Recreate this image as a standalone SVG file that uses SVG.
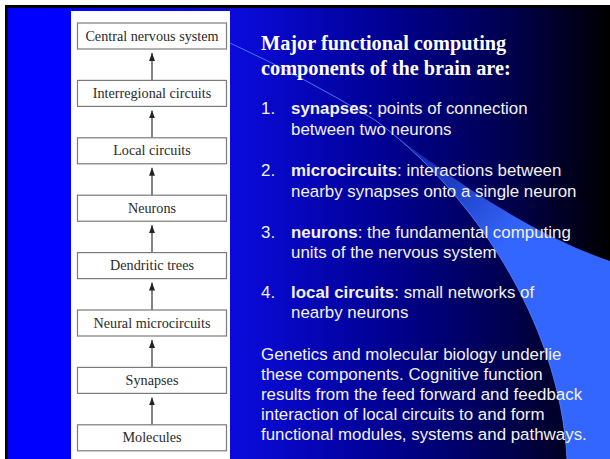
<svg xmlns="http://www.w3.org/2000/svg" width="610" height="459" viewBox="0 0 610 459">
  <defs>
    <linearGradient id="bg" x1="0" y1="0" x2="610" y2="0" gradientUnits="userSpaceOnUse">
      <stop offset="0.12" stop-color="#0000ff"/>
      <stop offset="0.4" stop-color="#0a0ad8"/>
      <stop offset="0.65" stop-color="#00008c"/>
      <stop offset="0.85" stop-color="#000048"/>
      <stop offset="1" stop-color="#000000"/>
    </linearGradient>
    <linearGradient id="swoosh" x1="400" y1="130" x2="510" y2="240" gradientUnits="userSpaceOnUse">
      <stop offset="0" stop-color="#3366ff" stop-opacity="0.25"/>
      <stop offset="1" stop-color="#3366ff" stop-opacity="1"/>
    </linearGradient>
    <marker id="arrow" viewBox="0 0 8 6" refX="8" refY="3" markerWidth="8" markerHeight="6" orient="auto" markerUnits="userSpaceOnUse">
      <path d="M0,0 L8,3 L0,6 Z" fill="#222"/>
    </marker>
    <style>
      .box { fill: #ffffff; stroke: #7a7a7a; stroke-width: 1.2; }
      .lbl { font-family: "Liberation Serif", "Times New Roman", serif; font-size: 14.2px; fill: #2a2a2a; text-anchor: middle; }
      .link { stroke: #333; stroke-width: 1.2; fill: none; }
      .title { font-family: "Liberation Serif", "Times New Roman", serif; font-size: 20.3px; font-weight: bold; fill: #ffffff; }
      .body { font-family: "Liberation Sans", Arial, sans-serif; font-size: 16.9px; fill: #f2f2f2; }
      .b { font-weight: bold; }
    </style>
  </defs>

  <!-- slide frame and background -->
  <rect x="0" y="0" width="610" height="459" fill="#ffffff"/>
  <rect x="5" y="5" width="610" height="460" fill="#000000"/>
  <rect x="7.5" y="8" width="610" height="460" fill="url(#bg)"/>

  <!-- decorative swoosh -->
  <g id="swoosh-band">
    <path d="M375,120 C470,190 560,320 567,459 L610,459 L610,261 Q512,228 375,120 Z" fill="url(#swoosh)"/>
    <path d="M230,43 Q300,75 375,120 C470,190 560,320 567,459" fill="none" stroke="#4d80ff" stroke-width="0.9"/>
  </g>

  <!-- hierarchy panel -->
  <rect x="71" y="11" width="159" height="450" fill="#ffffff"/>

  <g id="connectors">
    <line class="link" x1="152" y1="80.4" x2="152" y2="53" marker-end="url(#arrow)"/>
    <line class="link" x1="152" y1="137.8" x2="152" y2="110.4" marker-end="url(#arrow)"/>
    <line class="link" x1="152" y1="195.2" x2="152" y2="167.8" marker-end="url(#arrow)"/>
    <line class="link" x1="152" y1="252.6" x2="152" y2="225.2" marker-end="url(#arrow)"/>
    <line class="link" x1="152" y1="310" x2="152" y2="282.6" marker-end="url(#arrow)"/>
    <line class="link" x1="152" y1="367.4" x2="152" y2="340" marker-end="url(#arrow)"/>
    <line class="link" x1="152" y1="424.8" x2="152" y2="397.4" marker-end="url(#arrow)"/>
  </g>

  <g id="cns"><rect class="box" x="77.5" y="23" width="149" height="26"/><text class="lbl" x="152" y="40.5">Central nervous system</text></g>
  <g id="interregional"><rect class="box" x="77.5" y="80.4" width="149" height="26"/><text class="lbl" x="152" y="97.9">Interregional circuits</text></g>
  <g id="local"><rect class="box" x="77.5" y="137.8" width="149" height="26"/><text class="lbl" x="152" y="155.3">Local circuits</text></g>
  <g id="neurons"><rect class="box" x="77.5" y="195.2" width="149" height="26"/><text class="lbl" x="152" y="212.7">Neurons</text></g>
  <g id="dendritic"><rect class="box" x="77.5" y="252.6" width="149" height="26"/><text class="lbl" x="152" y="270.1">Dendritic trees</text></g>
  <g id="microcircuits"><rect class="box" x="77.5" y="310" width="149" height="26"/><text class="lbl" x="152" y="327.5">Neural microcircuits</text></g>
  <g id="synapses"><rect class="box" x="77.5" y="367.4" width="149" height="26"/><text class="lbl" x="152" y="384.9">Synapses</text></g>
  <g id="molecules"><rect class="box" x="77.5" y="424.8" width="149" height="26"/><text class="lbl" x="152" y="442.3">Molecules</text></g>

  <!-- text column -->
  <text class="title" x="261" y="50">Major functional computing</text>
  <text class="title" x="261" y="75">components of the brain are:</text>

  <text class="body" x="261" y="114">1.</text>
  <text class="body" x="291" y="114"><tspan class="b">synapses</tspan>: points of connection</text>
  <text class="body" x="291" y="134.5">between two neurons</text>

  <text class="body" x="261" y="176">2.</text>
  <text class="body" x="291" y="176"><tspan class="b">microcircuits</tspan>: interactions between</text>
  <text class="body" x="291" y="196.5">nearby synapses onto a single neuron</text>

  <text class="body" x="261" y="238">3.</text>
  <text class="body" x="291" y="238"><tspan class="b">neurons</tspan>: the fundamental computing</text>
  <text class="body" x="291" y="258">units of the nervous system</text>

  <text class="body" x="261" y="298">4.</text>
  <text class="body" x="291" y="298"><tspan class="b">local circuits</tspan>: small networks of</text>
  <text class="body" x="291" y="318">nearby neurons</text>

  <text class="body" x="261" y="360">Genetics and molecular biology underlie</text>
  <text class="body" x="261" y="380">these components. Cognitive function</text>
  <text class="body" x="261" y="400">results from the feed forward and feedback</text>
  <text class="body" x="261" y="420">interaction of local circuits to and form</text>
  <text class="body" x="261" y="440">functional modules, systems and pathways.</text>
</svg>
